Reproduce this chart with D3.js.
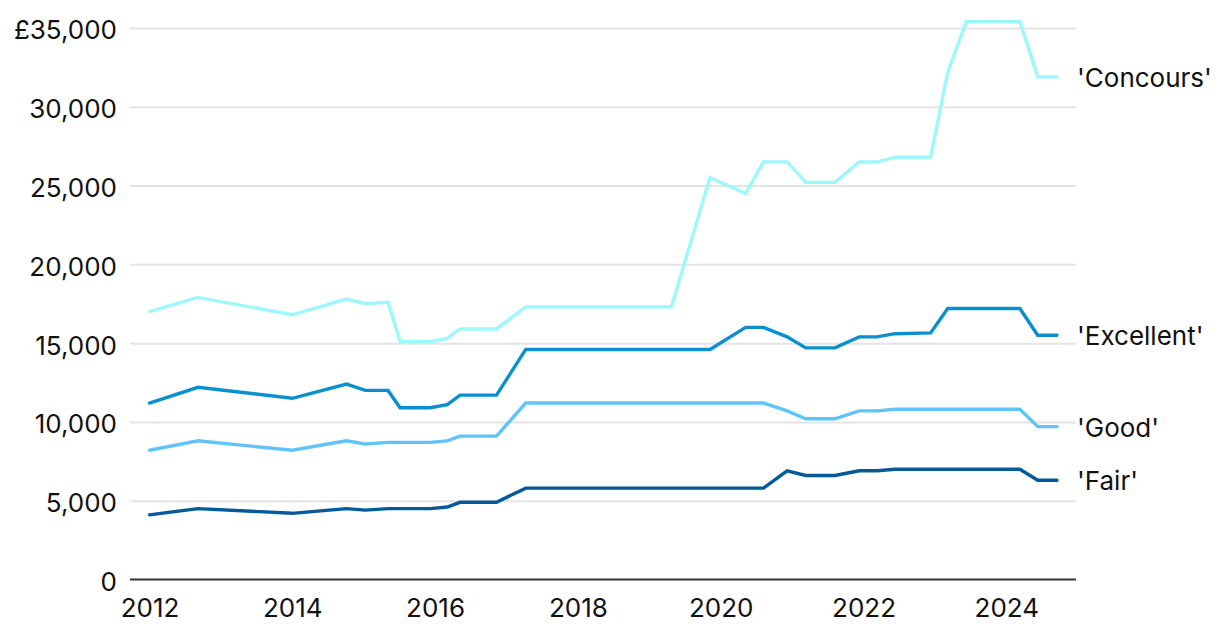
<!DOCTYPE html>
<html>
<head>
<meta charset="utf-8">
<script src="https://cdn.jsdelivr.net/npm/d3@7"></script>
<style>
  html, body { margin: 0; padding: 0; background: #ffffff; }
  svg { display: block; }
  text { font-family: "Inter", "Roboto", "Liberation Sans", sans-serif; fill: #111; }
</style>
</head>
<body>
<svg id="chart" width="1220" height="638"></svg>
<script>
// ---- data ----
const years = [2012.0, 2012.68, 2014.0, 2014.76, 2015.02, 2015.34, 2015.51, 2015.93, 2016.17, 2016.35, 2016.86, 2017.27, 2019.31, 2019.85, 2020.35, 2020.60, 2020.93, 2021.19, 2021.60, 2021.94, 2022.19, 2022.44, 2022.94, 2023.18, 2023.44, 2024.19, 2024.44, 2024.71];
const concours  = [17000, 17900, 16800, 17800, 17500, 17600, 15100, 15100, 15300, 15900, 15900, 17300, 17300, 25500, 24500, 26500, 26500, 25200, 25200, 26500, 26500, 26800, 26800, 32200, 35400, 35400, 31900, 31900];
const excellent = [11200, 12200, 11500, 12400, 12000, 12000, 10900, 10900, 11100, 11700, 11700, 14600, 14600, 14600, 16000, 16000, 15400, 14700, 14700, 15400, 15400, 15600, 15650, 17200, 17200, 17200, 15500, 15500];
const good      = [8200, 8800, 8200, 8800, 8600, 8700, 8700, 8700, 8800, 9100, 9100, 11200, 11200, 11200, 11200, 11200, 10700, 10200, 10200, 10700, 10700, 10800, 10800, 10800, 10800, 10800, 9700, 9700];
const fair      = [4100, 4500, 4200, 4500, 4400, 4500, 4500, 4500, 4600, 4900, 4900, 5800, 5800, 5800, 5800, 5800, 6900, 6600, 6600, 6900, 6900, 7000, 7000, 7000, 7000, 7000, 6300, 6300];
const seriesNames = ["'Concours'", "'Excellent'", "'Good'", "'Fair'"];
const seriesColors = ["#9ef7fd", "#0a8fcf", "#62c3fb", "#045a98"];
const xTicks = [2012, 2014, 2016, 2018, 2020, 2022, 2024];
const yTicks = [0, 5000, 10000, 15000, 20000, 25000, 30000, 35000];

const seriesValues = [concours, excellent, good, fair];

// ---- layout ----
const svg = d3.select("#chart");
const mLeft = 130, mRight = 1076, mTop = 28, mBottom = 579.5;
const fontSize = 26;

const x = d3.scaleLinear().domain([2011.727, 2024.976]).range([mLeft, mRight]);
const y = d3.scaleLinear().domain([0, 35000]).range([mBottom, mTop]);

// gridlines
const yAxis = d3.axisLeft(y)
  .tickValues(yTicks)
  .tickSize(-(mRight - mLeft))
  .tickPadding(13)
  .tickFormat(d => d === 35000 ? "£" + d3.format(",")(d) : d3.format(",")(d));

const gy = svg.append("g").attr("transform", `translate(${mLeft},0)`).call(yAxis);
gy.select(".domain").remove();
gy.selectAll(".tick line").attr("stroke", "#e4e4e4").attr("stroke-width", 2);
gy.selectAll(".tick text")
  .attr("font-size", fontSize)
  .attr("dy", "0.42em")
  .attr("x", -13)
  .style("fill", "#111");
gy.selectAll(".tick").filter(d => d === 0).select("line").remove();

// x axis
const xAxis = d3.axisBottom(x).tickValues(xTicks).tickSize(0).tickPadding(19).tickFormat(d3.format("d"));
const gx = svg.append("g").attr("transform", `translate(0,${mBottom})`).call(xAxis);
gx.select(".domain").remove();
gx.selectAll(".tick text").attr("font-size", fontSize).style("fill", "#111");
svg.append("line")
  .attr("x1", mLeft).attr("x2", mRight)
  .attr("y1", mBottom).attr("y2", mBottom)
  .attr("stroke", "#333").attr("stroke-width", 2);

// lines
const line = d3.line().x((d, i) => x(years[i])).y(d => y(d));
seriesValues.forEach((vals, k) => {
  svg.append("path")
    .datum(vals)
    .attr("d", line)
    .attr("fill", "none")
    .attr("stroke", seriesColors[k])
    .attr("stroke-width", 3.4)
    .attr("stroke-linejoin", "miter")
    .attr("stroke-linecap", "round");
  svg.append("text")
    .attr("x", mRight + 1)
    .attr("y", y(vals[vals.length - 1]))
    .attr("dy", "0.38em")
    .attr("font-size", fontSize)
    .text(seriesNames[k]);
});
</script>
</body>
</html>
